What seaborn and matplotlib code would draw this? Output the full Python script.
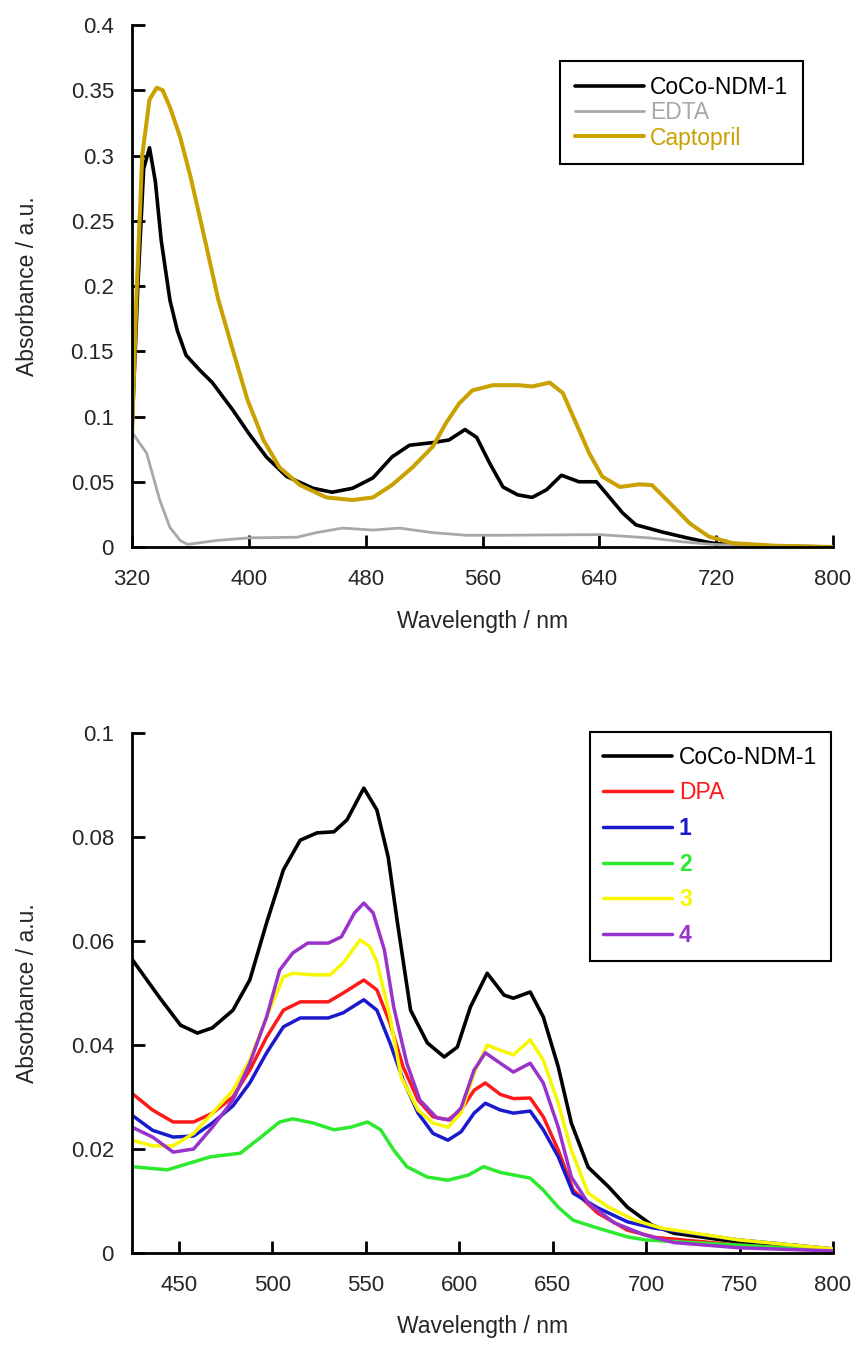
import matplotlib
matplotlib.use("Agg")
import matplotlib.pyplot as plt
import seaborn as sns
import pandas as pd
from matplotlib.ticker import FuncFormatter

# --- top panel: CoCo-NDM-1 with EDTA / Captopril ---
coco_wl = [320, 324, 328, 332, 336, 340, 346, 351, 357, 366, 375, 389, 400, 412, 426, 444,
           457, 471, 485, 498, 510, 526, 537, 548, 556, 565, 574, 584, 594, 604, 614, 626,
           638, 647, 656, 665, 683, 700, 717, 740, 770, 800]
coco_abs = [0.09, 0.20, 0.29, 0.306, 0.28, 0.235, 0.189, 0.166, 0.147, 0.136, 0.126, 0.105,
            0.087, 0.069, 0.054, 0.045, 0.042, 0.045, 0.053, 0.069, 0.078, 0.080, 0.082,
            0.090, 0.084, 0.064, 0.046, 0.040, 0.038, 0.044, 0.055, 0.050, 0.050, 0.038,
            0.026, 0.017, 0.0115, 0.007, 0.003, 0.001, 0.0005, 0.0]

capto_wl = [320, 323, 327, 332, 337, 341, 346, 353, 360, 368, 379, 389, 399, 410, 421, 435,
            453, 471, 485, 498, 512, 526, 535, 544, 553, 567, 585, 594, 606, 615, 624, 633,
            642, 654, 667, 676, 688, 702, 715, 731, 760, 800]
capto_abs = [0.085, 0.19, 0.30, 0.343, 0.352, 0.350, 0.337, 0.314, 0.284, 0.245, 0.190, 0.151,
             0.113, 0.082, 0.061, 0.0475, 0.038, 0.036, 0.038, 0.0475, 0.061, 0.077, 0.095,
             0.110, 0.120, 0.124, 0.124, 0.123, 0.126, 0.118, 0.095, 0.072, 0.054, 0.046,
             0.048, 0.0475, 0.034, 0.018, 0.008, 0.003, 0.001, 0.0]

edta_wl = [320, 330, 339, 346, 353, 358, 378, 400, 433, 446, 464, 485, 503, 526, 549, 572,
           640, 674, 697, 717, 760, 800]
edta_abs = [0.088, 0.072, 0.036, 0.015, 0.005, 0.002, 0.005, 0.007, 0.0075, 0.011, 0.0145,
            0.013, 0.0145, 0.011, 0.009, 0.009, 0.0095, 0.007, 0.004, 0.002, 0.0005, 0.0]

# --- bottom panel: CoCo-NDM-1 with inhibitors ---
ndm_wl = [425, 440, 451, 460, 468, 479, 488, 497, 506, 515, 524, 533, 540, 549, 556, 562,
          567, 574, 583, 592, 599, 606, 615, 624, 629, 638, 645, 653, 660, 669, 680, 690,
          703, 715, 751, 779, 800]
ndm_abs = [0.0565, 0.049, 0.0438, 0.0423, 0.0433, 0.0467, 0.0525, 0.0635, 0.0737, 0.0794,
           0.0808, 0.081, 0.0833, 0.0894, 0.0852, 0.0762, 0.0635, 0.0467, 0.0404, 0.0377,
           0.0396, 0.0473, 0.0538, 0.0496, 0.049, 0.0502, 0.0454, 0.0358, 0.025, 0.0165,
           0.0127, 0.0088, 0.0054, 0.0038, 0.002, 0.0015, 0.0005]

dpa_wl = [425, 436, 447, 458, 468, 479, 488, 497, 506, 515, 530, 538, 549, 556, 563, 570,
          578, 586, 594, 601, 608, 614, 622, 629, 638, 645, 653, 661, 674, 690, 705, 750, 800]
dpa_abs = [0.0307, 0.0275, 0.0252, 0.0252, 0.0269, 0.030, 0.0352, 0.0415, 0.0467, 0.0483,
           0.0483, 0.050, 0.0525, 0.0506, 0.0442, 0.0358, 0.0294, 0.0262, 0.0256, 0.0275,
           0.0313, 0.0327, 0.0305, 0.0297, 0.0298, 0.0262, 0.0198, 0.0121, 0.0077, 0.0044,
           0.003, 0.0015, 0.0005]

c1_wl = [425, 436, 447, 458, 468, 479, 488, 497, 506, 515, 530, 538, 549, 556, 563, 570,
         578, 586, 594, 601, 608, 614, 622, 629, 638, 645, 653, 661, 674, 690, 704, 750, 800]
c1_abs = [0.0265, 0.0236, 0.0223, 0.0225, 0.025, 0.0283, 0.0327, 0.0385, 0.0435, 0.0452,
          0.0452, 0.0462, 0.0487, 0.0467, 0.0404, 0.0333, 0.0269, 0.023, 0.0217, 0.0233,
          0.0269, 0.0288, 0.0275, 0.0269, 0.0273, 0.0237, 0.0185, 0.0115, 0.0087, 0.006,
          0.0048, 0.0025, 0.0008]

c2_wl = [425, 444, 455, 467, 483, 494, 504, 511, 522, 533, 542, 551, 558, 565, 572, 583,
         594, 605, 613, 622, 638, 645, 653, 661, 674, 690, 700, 750, 800]
c2_abs = [0.0166, 0.016, 0.0172, 0.0185, 0.0192, 0.0223, 0.0252, 0.0258, 0.025, 0.0237,
          0.0242, 0.0252, 0.0237, 0.0198, 0.0166, 0.0146, 0.014, 0.015, 0.0166, 0.0155,
          0.0144, 0.0121, 0.0088, 0.0063, 0.0048, 0.0031, 0.0025, 0.0015, 0.0005]

c3_wl = [425, 436, 447, 458, 468, 479, 488, 497, 506, 511, 522, 531, 538, 547, 552, 556,
         560, 563, 569, 578, 586, 594, 601, 608, 615, 622, 629, 638, 645, 653, 660, 669,
         680, 694, 708, 750, 800]
c3_abs = [0.0217, 0.0206, 0.0206, 0.023, 0.0269, 0.0313, 0.0371, 0.0454, 0.0531, 0.0538,
          0.0535, 0.0535, 0.0558, 0.0602, 0.059, 0.056, 0.050, 0.0454, 0.0338, 0.0275,
          0.025, 0.0242, 0.0269, 0.0346, 0.040, 0.039, 0.0381, 0.041, 0.0371, 0.0288,
          0.0198, 0.0115, 0.0088, 0.0063, 0.0048, 0.0025, 0.0008]

c4_wl = [425, 436, 447, 458, 468, 479, 488, 497, 504, 511, 519, 530, 537, 544, 549, 554,
         560, 565, 572, 579, 588, 595, 601, 608, 614, 622, 629, 638, 645, 653, 660, 669,
         683, 699, 715, 750, 800]
c4_abs = [0.0242, 0.0223, 0.0194, 0.020, 0.0242, 0.0294, 0.0365, 0.0454, 0.0544, 0.0577,
          0.0596, 0.0596, 0.0608, 0.0654, 0.0673, 0.0654, 0.0583, 0.0473, 0.0365, 0.0294,
          0.026, 0.0256, 0.0279, 0.0352, 0.0385, 0.0365, 0.0348, 0.0365, 0.0327, 0.0242,
          0.0146, 0.0096, 0.0058, 0.0035, 0.002, 0.001, 0.0004]

top_series = [
    ('CoCo-NDM-1', coco_wl, coco_abs, '#000000', 2.6),
    ('EDTA', edta_wl, edta_abs, '#A8A8A8', 2.0),
    ('Captopril', capto_wl, capto_abs, '#C9A100', 2.9),
]
bottom_series = [
    ('CoCo-NDM-1', ndm_wl, ndm_abs, '#000000', 2.6),
    ('DPA', dpa_wl, dpa_abs, '#FF1A1A', 2.5),
    ('1', c1_wl, c1_abs, '#1A1ACC', 2.5),
    ('2', c2_wl, c2_abs, '#2EEA2E', 2.5),
    ('3', c3_wl, c3_abs, '#F7F700', 2.5),
    ('4', c4_wl, c4_abs, '#9933CC', 2.5),
]

sns.set_style('ticks')
plt.rcParams['font.family'] = ['Liberation Sans', 'DejaVu Sans']
TXT = '#262626'

fig = plt.figure(figsize=(8.56, 13.45), dpi=100)
ax1 = fig.add_axes([0.1542, 0.5933, 0.819, 0.3881])
ax2 = fig.add_axes([0.1542, 0.0684, 0.819, 0.3866])


def style_axis(ax):
    for side in ['top', 'right']:
        ax.spines[side].set_visible(False)
    for side in ['left', 'bottom']:
        ax.spines[side].set_linewidth(2.0)
        ax.spines[side].set_color('black')
    ax.tick_params(axis='both', direction='in', length=9, width=2.0,
                   labelsize=16, labelcolor=TXT, color='black')
    ax.tick_params(axis='x', pad=16)
    ax.tick_params(axis='y', pad=13)
    ax.yaxis.set_major_formatter(FuncFormatter(lambda v, p: '%g' % round(v, 4)))
    ax.set_xlabel('Wavelength / nm', fontsize=16.5, color=TXT)
    ax.set_ylabel('Absorbance / a.u.', fontsize=16.5, color=TXT)
    ax.xaxis.set_label_coords(0.5, -0.12)
    ax.yaxis.set_label_coords(-0.132, 0.5)


def draw(ax, series):
    for name, wl, vals, col, lw in series:
        df = pd.DataFrame({'wl': wl, 'abs': vals})
        sns.lineplot(data=df, x='wl', y='abs', ax=ax, color=col, lw=lw,
                     label=name, estimator=None, sort=False)


draw(ax1, top_series)
ax1.set_xlim(320, 800)
ax1.set_ylim(0, 0.4)
ax1.set_xticks([320, 400, 480, 560, 640, 720, 800])
ax1.set_yticks([0, 0.05, 0.1, 0.15, 0.2, 0.25, 0.3, 0.35, 0.4])
style_axis(ax1)
leg1 = ax1.legend(loc='upper right', bbox_to_anchor=(0.957, 0.931), borderaxespad=0,
                  fontsize=16.5, frameon=True, fancybox=False, framealpha=1,
                  edgecolor='black', handlelength=3.0, handletextpad=0.25,
                  labelspacing=0.1, borderpad=0.65)
leg1.get_frame().set_linewidth(1.5)
for t, h in zip(leg1.get_texts(), leg1.get_lines()):
    t.set_color(h.get_color())

draw(ax2, bottom_series)
ax2.set_xlim(425, 800)
ax2.set_ylim(0, 0.1)
ax2.set_xticks([450, 500, 550, 600, 650, 700, 750, 800])
ax2.set_yticks([0, 0.02, 0.04, 0.06, 0.08, 0.1])
style_axis(ax2)
leg2 = ax2.legend(loc='upper right', bbox_to_anchor=(0.997, 1.002), borderaxespad=0,
                  fontsize=16.5, frameon=True, fancybox=False, framealpha=1,
                  edgecolor='black', handlelength=3.0, handletextpad=0.3,
                  labelspacing=0.55, borderpad=0.6)
leg2.get_frame().set_linewidth(1.5)
for t, h in zip(leg2.get_texts(), leg2.get_lines()):
    t.set_color(h.get_color())
    if t.get_text() in ('1', '2', '3', '4'):
        t.set_fontweight('bold')

fig.savefig('out.png', dpi=100)
